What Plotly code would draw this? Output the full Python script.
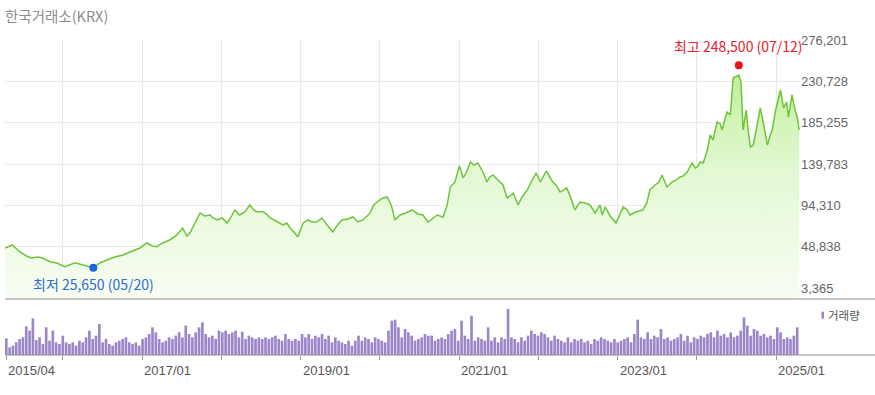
import plotly.graph_objects as go
import pandas as pd

title_text = "한국거래소(KRX)"

price_dates = [
    "2015-04-09", "2015-05-13", "2015-06-15", "2015-07-17", "2015-08-10", "2015-09-07", "2015-09-29",
    "2015-11-02", "2015-12-04", "2016-01-10", "2016-02-25", "2016-03-27", "2016-04-20", "2016-05-20",
    "2016-06-19", "2016-07-21", "2016-08-27", "2016-10-03", "2016-11-14", "2016-12-21", "2017-01-22",
    "2017-02-15", "2017-03-08", "2017-04-05", "2017-05-07", "2017-06-09", "2017-07-06", "2017-07-25",
    "2017-08-08", "2017-09-01", "2017-09-24", "2017-10-16", "2017-11-09", "2017-11-23", "2017-12-11",
    "2018-01-04", "2018-01-26", "2018-02-14", "2018-03-03", "2018-03-25", "2018-04-18", "2018-05-11",
    "2018-05-29", "2018-06-12", "2018-07-10", "2018-07-28", "2018-08-12", "2018-09-09", "2018-10-11",
    "2018-10-29", "2018-11-13", "2018-12-01", "2018-12-19", "2019-01-12", "2019-02-04", "2019-02-22",
    "2019-03-15", "2019-04-08", "2019-05-01", "2019-05-28", "2019-06-16", "2019-07-09", "2019-08-06",
    "2019-08-29", "2019-09-22", "2019-10-14", "2019-11-03", "2019-11-16", "2019-12-04", "2019-12-18",
    "2020-01-15", "2020-02-03", "2020-02-17", "2020-02-26", "2020-03-10", "2020-04-03", "2020-04-30",
    "2020-05-27", "2020-06-24", "2020-07-17", "2020-08-10", "2020-09-03", "2020-09-21", "2020-10-18",
    "2020-11-06", "2020-11-20", "2020-12-12", "2021-01-01", "2021-01-19", "2021-02-03", "2021-02-21",
    "2021-03-09", "2021-03-27", "2021-04-20", "2021-05-08", "2021-05-22", "2021-06-05", "2021-06-28",
    "2021-07-21", "2021-08-09", "2021-08-23", "2021-09-06", "2021-09-29", "2021-10-17", "2021-11-10",
    "2021-12-03", "2021-12-21", "2022-01-09", "2022-01-23", "2022-02-06", "2022-02-24", "2022-03-08",
    "2022-03-26", "2022-04-10", "2022-04-28", "2022-05-11", "2022-05-30", "2022-06-18", "2022-07-10",
    "2022-08-03", "2022-08-26", "2022-09-19", "2022-10-11", "2022-10-21", "2022-11-04", "2022-11-27",
    "2022-12-24", "2023-01-12", "2023-01-26", "2023-02-14", "2023-02-26", "2023-03-25", "2023-04-27",
    "2023-05-15", "2023-05-29", "2023-06-22", "2023-07-10", "2023-07-24", "2023-08-07", "2023-08-16",
    "2023-09-09", "2023-09-27", "2023-10-15", "2023-10-29", "2023-11-17", "2023-12-10", "2023-12-24",
    "2024-01-03", "2024-01-16", "2024-01-30", "2024-02-18", "2024-03-02", "2024-03-15", "2024-04-03",
    "2024-04-17", "2024-04-26", "2024-05-10", "2024-05-19", "2024-06-03", "2024-06-16", "2024-07-12",
    "2024-07-22", "2024-08-01", "2024-08-15", "2024-08-24", "2024-09-03", "2024-09-17", "2024-10-05",
    "2024-10-19", "2024-11-02", "2024-11-11", "2024-11-21", "2024-12-04", "2024-12-13", "2024-12-27",
    "2025-01-06", "2025-01-20", "2025-02-03", "2025-02-17", "2025-02-26", "2025-03-14", "2025-03-28",
    "2025-04-07", "2025-04-16",
]
price_values = [
    47400, 50700, 43300, 38600, 36400, 37500, 36400,
    32300, 30900, 26800, 31200, 28700, 27600, 25650,
    30900, 34200, 37500, 39700, 44100, 47400, 52900,
    49600, 48800, 52900, 56200, 61700, 69400, 60600,
    63900, 76000, 85900, 82600, 83700, 80400, 78200,
    80400, 74900, 81500, 89200, 83700, 87000, 94700,
    89200, 87300, 87300, 84800, 80400, 77100, 72700,
    74900, 69400, 65000, 59500, 74900, 78200, 76000,
    76000, 80400, 72700, 65000, 71600, 78200, 79300,
    81500, 76000, 78200, 82600, 85900, 94700, 98000,
    102400, 103500, 96900, 91400, 78200, 83700, 85900,
    89200, 84800, 83700, 76000, 80400, 83700, 81500,
    94700, 114500, 120000, 137600, 124400, 131000, 142000,
    138700, 140900, 131000, 120000, 125500, 127700, 122200,
    116700, 102400, 104600, 107900, 94700, 103500, 111200,
    122200, 129900, 120000, 126600, 132100, 124400, 120000,
    115600, 109000, 111200, 113400, 102400, 89200, 98000,
    96900, 94700, 85900, 94700, 83700, 92500, 82600,
    74900, 84800, 92500, 89200, 83700, 87000, 89200,
    96900, 111200, 116700, 120000, 127700, 120000, 114500,
    120000, 122200, 125500, 126600, 131000, 140900, 135400,
    136500, 142000, 140900, 155200, 171700, 166200, 186000,
    183800, 177200, 190400, 197000, 193700, 234400, 237700,
    230000, 177200, 199200, 177200, 158500, 160700, 184900,
    201400, 184900, 171700, 160700, 171700, 177200, 197000,
    208000, 221200, 201400, 208000, 191500, 215700, 199200,
    191500, 177200,
]

# volume (thousand shares), read left to right
volume_values = [
    5000, 2300, 2800, 3800, 4800, 5300, 8600, 7300, 11000, 4500, 5300, 3300, 8300, 4300, 7300,
    3800, 3300, 5800, 3800, 3300, 3800, 2800, 4300, 3800, 5300, 7300, 4800, 5800, 9300, 3800,
    4800, 3300, 2800, 3800, 4300, 4800, 5300, 3800, 3300, 3800, 2800, 4800, 5300, 6300, 8300,
    6800, 4800, 3800, 4300, 5300, 4800, 5800, 6800, 5300, 8800, 6300, 5300, 6800, 8300, 9800,
    6300, 5300, 5800, 4800, 7300, 6800, 7300, 6300, 6800, 7300, 5300, 7000, 4800, 5800, 5300,
    4800, 5300, 4800, 5300, 4800, 5300, 5800, 4800, 4300, 6300, 4800, 4300, 4800, 4300, 6300,
    5300, 6300, 4800, 5800, 5300, 6300, 4800, 5800, 3800, 5300, 4300, 3800, 3300, 4300, 2800,
    4300, 5800, 4300, 5300, 4800, 3800, 5300, 4800, 4300, 3800, 7300, 10300, 10600, 8300, 5300,
    7800, 6800, 5800, 4300, 4800, 5300, 6300, 5800, 5800, 4300, 4800,
    5300, 4800, 6300, 7300, 7800, 4300, 10300, 5800, 4800, 11800, 4300, 5300, 4800, 4300, 8300,
    4300, 5300, 3800, 5300, 4800, 13800, 5300, 4800, 3800, 5300, 4300, 5800, 7300, 6300, 5800,
    6800, 6300, 5300, 4300, 5800, 4800, 4300, 3800, 5300, 3800, 4800, 4300, 4800, 3800, 4300,
    3300, 4800, 4300, 5300, 4800, 4300, 3800, 4800, 3800, 4300, 4800, 5300, 3800, 6300, 10600,
    5300, 4800, 6800, 4800, 5800, 5300, 7800, 4800, 5300, 4300, 4800, 5300, 6300, 4300, 5800,
    3800, 5300, 4800, 5800, 5300, 6300, 6800, 5300, 7300, 5800, 6300, 5300, 6800, 5300, 5800,
    7300, 11300, 8800, 5800, 7800, 7300, 5800, 6300, 5300, 5800, 4800, 8300, 6800, 4800, 5300,
    4800, 5800, 8300,
]
volume_first, volume_last = "2015-04-15", "2025-04-07"

y_ticks = [3365, 48838, 94310, 139783, 185255, 230728, 276201]
year_ticks = ["2016-01-01", "2017-01-01", "2018-01-01", "2019-01-01", "2020-01-01",
              "2021-01-01", "2022-01-01", "2023-01-01", "2024-01-01", "2025-01-01"]
x_label_dates = ["2015-04-15", "2017-01-01", "2019-01-01", "2021-01-01", "2023-01-01", "2025-01-01"]
x_label_text = ["2015/04", "2017/01", "2019/01", "2021/01", "2023/01", "2025/01"]

high_date, high_value, high_label = "2024-07-12", 248500, "최고 248,500 (07/12)"
low_date, low_value, low_label = "2016-05-20", 25650, "최저 25,650 (05/20)"
legend_label = "거래량"

x_range = ["2015-04-09", "2025-04-20"]
y_range = [-8737, 277300]

volume_dates = pd.date_range(volume_first, volume_last, periods=len(volume_values))

fig = go.Figure()

# baseline for the area fill (bottom of the price axis)
fig.add_trace(go.Scatter(
    x=[price_dates[0], price_dates[-1]], y=[y_range[0], y_range[0]],
    mode="lines", line=dict(width=0, color="rgba(0,0,0,0)"),
    hoverinfo="skip", showlegend=False, xaxis="x", yaxis="y"))

fig.add_trace(go.Scatter(
    x=price_dates, y=price_values, mode="lines",
    line=dict(color="#6cc53a", width=1.5),
    fill="tonexty",
    fillgradient=dict(type="vertical", start=y_range[0], stop=y_range[1],
                      colorscale=[[0, "#f8fdf4"], [0.5, "#e2f8d2"], [1, "#b4ec86"]]),
    showlegend=False, xaxis="x", yaxis="y"))

fig.add_trace(go.Scatter(
    x=[high_date], y=[high_value], mode="markers",
    marker=dict(color="#ee1111", size=8), showlegend=False, xaxis="x", yaxis="y"))
fig.add_trace(go.Scatter(
    x=[low_date], y=[low_value], mode="markers",
    marker=dict(color="#1a66d6", size=8), showlegend=False, xaxis="x", yaxis="y"))

fig.add_trace(go.Bar(
    x=volume_dates, y=volume_values, marker=dict(color="#9b86c9", line=dict(width=0)),
    showlegend=False, xaxis="x2", yaxis="y2"))

top_bottom = 0.1772
vol_top = 0.1614

fig.update_layout(
    width=875, height=395,
    margin=dict(l=5, r=75, t=39, b=40, autoexpand=False),
    paper_bgcolor="white", plot_bgcolor="white",
    bargap=0.2,
    font=dict(family="Liberation Sans, Arial, sans-serif", color="#666"),
    xaxis=dict(domain=[0, 1], range=x_range, type="date", anchor="y", automargin=False,
               tickvals=year_ticks, showticklabels=False, ticks="",
               showgrid=True, gridcolor="#e9e9e9", gridwidth=1, zeroline=False, showline=False),
    yaxis=dict(domain=[top_bottom, 1], range=y_range, side="right", anchor="x", automargin=False,
               tickvals=y_ticks, tickformat=",", ticks="",
               tickfont=dict(size=13, color="#666"),
               showgrid=True, gridcolor="#e9e9e9", gridwidth=1, zeroline=False, showline=False),
    xaxis2=dict(domain=[0, 1], range=x_range, type="date", anchor="y2", automargin=False,
                tickvals=[x_label_dates[0]] + year_ticks, showticklabels=False,
                ticks="outside", ticklen=4, tickcolor="#999", tickwidth=1,
                showgrid=False, zeroline=False, showline=False),
    yaxis2=dict(domain=[0, vol_top], range=[0, 15300], anchor="x2", automargin=False,
                showticklabels=False, showgrid=False, zeroline=False, showline=False),
    shapes=[
        dict(type="line", xref="paper", yref="paper", x0=0, x1=1.0944, y0=top_bottom, y1=top_bottom,
             line=dict(color="#8f8f8f", width=1)),
        dict(type="line", xref="paper", yref="paper", x0=0, x1=1.0944, y0=0, y1=0,
             line=dict(color="#8f8f8f", width=1)),
        dict(type="rect", xref="paper", yref="paper", x0=1.0270, x1=1.0302, y0=0.115, y1=0.137,
             fillcolor="#9b86c9", line=dict(width=0)),
    ],
)

annotations = [
    dict(text=title_text, xref="paper", yref="paper", x=-0.002, y=1.075, xanchor="left", yanchor="middle",
         showarrow=False, font=dict(family="Noto Sans CJK KR", size=14.5, color="#8c8c8c")),
    dict(text=high_label, x=high_date, y=high_value, xref="x", yref="y", xanchor="center", yanchor="middle",
         yshift=19, showarrow=False, font=dict(family="Noto Sans CJK KR", size=14, color="#e3202a")),
    dict(text=low_label, x=low_date, y=low_value, xref="x", yref="y", xanchor="center", yanchor="middle",
         yshift=-16, showarrow=False, font=dict(family="Noto Sans CJK KR", size=14, color="#2a6cc8")),
    dict(text=legend_label, xref="paper", yref="paper", x=1.0325, y=0.126, xanchor="left", yanchor="middle",
         showarrow=False, font=dict(family="Noto Sans CJK KR", size=11.5, color="#555")),
]
for d, t in zip(x_label_dates, x_label_text):
    annotations.append(dict(text=t, x=d, y=-0.02, xref="x2", yref="paper", xanchor="left", yanchor="top",
                            showarrow=False, font=dict(size=13, color="#555")))
fig.update_layout(annotations=annotations)

fig.write_html("out.html", config={"displayModeBar": False},
               post_script="document.body.style.margin='0';document.body.style.padding='0';")
